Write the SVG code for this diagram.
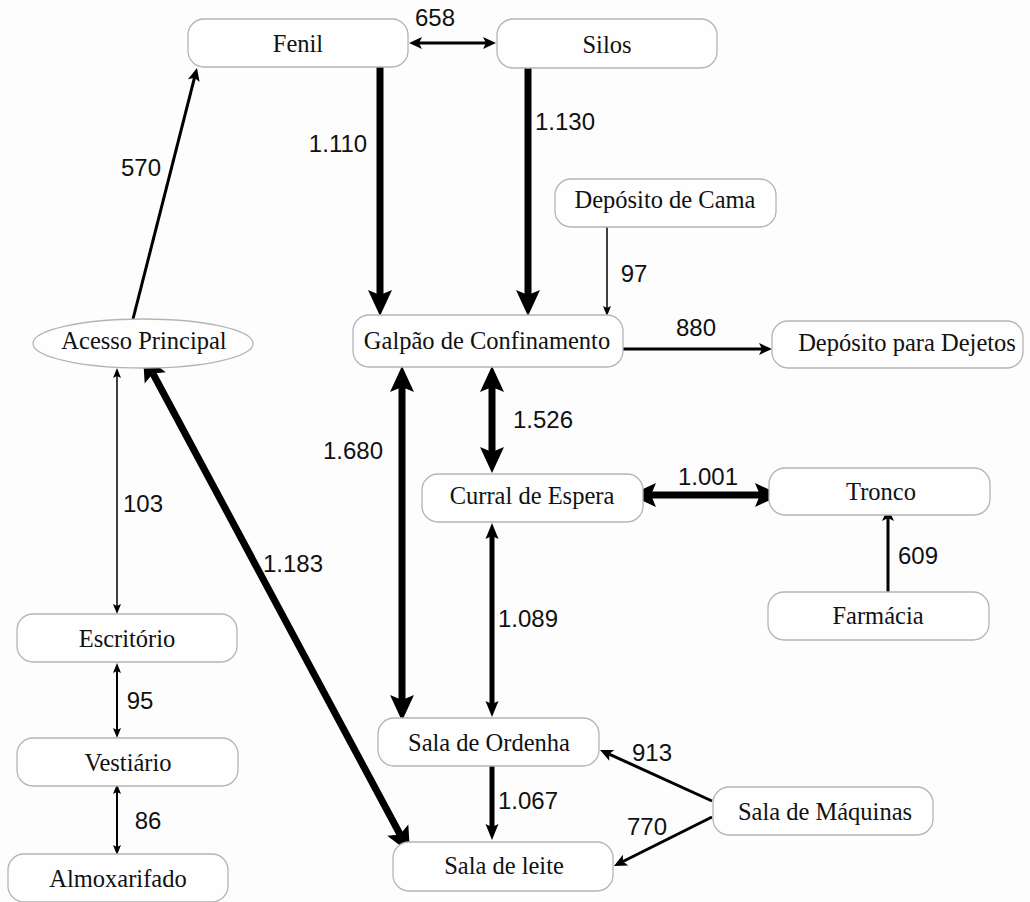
<svg xmlns="http://www.w3.org/2000/svg" width="1030" height="902" viewBox="0 0 1030 902">
<style>
.box{fill:#fefefe;stroke:#b4b4b4;stroke-width:1.3}
.nt{font-family:"Liberation Serif","Times New Roman",serif;font-size:24.5px;fill:#111;text-anchor:middle}
.lb{font-family:"Liberation Sans",Arial,sans-serif;font-size:24px;fill:#111;text-anchor:middle}
.c{stroke:#000;fill:none;stroke-linecap:butt}
.w7{stroke-width:7}
.w5{stroke-width:5}
.w3{stroke-width:3}
.w2{stroke-width:2}
.w15{stroke-width:1.5}
</style>
<defs>
<marker id="hb" markerUnits="userSpaceOnUse" markerWidth="26" markerHeight="24" refX="5" refY="12" orient="auto-start-reverse" overflow="visible"><path d="M0,0 L26,12 L0,24 L5,12 z" fill="#000"/></marker>
<marker id="hm" markerUnits="userSpaceOnUse" markerWidth="16" markerHeight="13" refX="3" refY="6.5" orient="auto-start-reverse" overflow="visible"><path d="M0,0 L16,6.5 L0,13 L3,6.5 z" fill="#000"/></marker>
<marker id="hs" markerUnits="userSpaceOnUse" markerWidth="13" markerHeight="12" refX="3" refY="6" orient="auto-start-reverse" overflow="visible"><path d="M0,0 L13,6 L0,12 L3,6 z" fill="#000"/></marker>
<marker id="ht" markerUnits="userSpaceOnUse" markerWidth="10" markerHeight="8" refX="2" refY="4" orient="auto-start-reverse" overflow="visible"><path d="M0,0 L10,4 L0,8 L2,4 z" fill="#000"/></marker>
</defs>
<rect x="0" y="0" width="1030" height="902" fill="#fdfdfd"/>
<g id="connectors">
<line class="c w3" x1="419" y1="43" x2="486" y2="43" marker-start="url(#hs)" marker-end="url(#hs)"/>
<line class="c w3" x1="133" y1="319" x2="194.5" y2="77.7" marker-end="url(#hs)"/>
<line class="c w7" x1="380" y1="67" x2="380" y2="295" marker-end="url(#hb)"/>
<line class="c w7" x1="528" y1="68" x2="528" y2="295" marker-end="url(#hb)"/>
<line class="c w15" x1="607" y1="227" x2="607" y2="308" marker-end="url(#ht)"/>
<line class="c w3" x1="623" y1="349" x2="762" y2="349" marker-end="url(#hs)"/>
<line class="c w7" x1="492" y1="387" x2="492" y2="452" marker-start="url(#hb)" marker-end="url(#hb)"/>
<line class="c w7" x1="402" y1="387" x2="402" y2="700" marker-start="url(#hb)" marker-end="url(#hb)"/>
<line class="c w7" x1="651" y1="495" x2="760" y2="495" marker-start="url(#hb)" marker-end="url(#hb)"/>
<line class="c w3" x1="888" y1="592" x2="888" y2="518" marker-end="url(#hs)"/>
<line class="c w5" x1="492" y1="536" x2="492" y2="704" marker-start="url(#hm)" marker-end="url(#hm)"/>
<line class="c w5" x1="492" y1="766" x2="492" y2="827" marker-end="url(#hm)"/>
<line class="c w3" x1="712" y1="801" x2="609.1" y2="754.1" marker-end="url(#hs)"/>
<line class="c w3" x1="712" y1="817" x2="622.9" y2="861.5" marker-end="url(#hs)"/>
<line class="c w7" x1="152.9" y1="373.5" x2="400.1" y2="834.5" marker-start="url(#hb)" marker-end="url(#hb)"/>
<line class="c w15" x1="117" y1="376" x2="117" y2="606" marker-start="url(#ht)" marker-end="url(#ht)"/>
<line class="c w2" x1="117" y1="671" x2="117" y2="730" marker-start="url(#ht)" marker-end="url(#ht)"/>
<line class="c w2" x1="117" y1="792" x2="117" y2="847" marker-start="url(#ht)" marker-end="url(#ht)"/>
</g>
<g id="labels">
<text class="lb" x="435" y="26">658</text>
<text class="lb" x="141" y="176">570</text>
<text class="lb" x="338" y="152">1.110</text>
<text class="lb" x="565" y="130">1.130</text>
<text class="lb" x="634" y="282">97</text>
<text class="lb" x="696" y="336">880</text>
<text class="lb" x="543" y="428">1.526</text>
<text class="lb" x="353" y="459">1.680</text>
<text class="lb" x="708" y="485">1.001</text>
<text class="lb" x="918" y="564">609</text>
<text class="lb" x="143" y="512">103</text>
<text class="lb" x="293" y="572">1.183</text>
<text class="lb" x="528" y="627">1.089</text>
<text class="lb" x="140" y="709">95</text>
<text class="lb" x="148" y="829">86</text>
<text class="lb" x="652" y="761">913</text>
<text class="lb" x="528" y="809">1.067</text>
<text class="lb" x="647" y="835">770</text>
</g>
<g id="fenil"><rect class="box" x="188" y="19" width="220" height="48" rx="16"/><text class="nt" x="298" y="52">Fenil</text></g>
<g id="silos"><rect class="box" x="497" y="19" width="220" height="49" rx="16"/><text class="nt" x="607" y="53">Silos</text></g>
<g id="deposito-cama"><rect class="box" x="555" y="179" width="221" height="48" rx="16"/><text class="nt" x="665" y="208">Depósito de Cama</text></g>
<g id="acesso-principal"><ellipse class="box" cx="143" cy="343.5" rx="110" ry="24.5"/><text class="nt" x="144" y="349">Acesso Principal</text></g>
<g id="galpao"><rect class="box" x="353" y="315" width="270" height="52" rx="16"/><text class="nt" x="487" y="349">Galpão de Confinamento</text></g>
<g id="deposito-dejetos"><rect class="box" x="772" y="321" width="251" height="47" rx="16"/><text class="nt" x="907" y="351">Depósito para Dejetos</text></g>
<g id="curral"><rect class="box" x="422" y="474" width="221" height="48" rx="16"/><text class="nt" x="532" y="504">Curral de Espera</text></g>
<g id="tronco"><rect class="box" x="769" y="468" width="221" height="47" rx="16"/><text class="nt" x="881" y="500">Tronco</text></g>
<g id="farmacia"><rect class="box" x="768" y="592" width="221" height="48" rx="16"/><text class="nt" x="878" y="624">Farmácia</text></g>
<g id="escritorio"><rect class="box" x="17" y="614" width="220" height="48" rx="16"/><text class="nt" x="127" y="647">Escritório</text></g>
<g id="vestiario"><rect class="box" x="17" y="738" width="221" height="48" rx="16"/><text class="nt" x="128" y="771">Vestiário</text></g>
<g id="almoxarifado"><rect class="box" x="8" y="854" width="220" height="48" rx="16"/><text class="nt" x="118" y="887">Almoxarifado</text></g>
<g id="sala-ordenha"><rect class="box" x="378" y="718" width="221" height="48" rx="16"/><text class="nt" x="489" y="751">Sala de Ordenha</text></g>
<g id="sala-maquinas"><rect class="box" x="713" y="787" width="220" height="48" rx="16"/><text class="nt" x="825" y="820">Sala de Máquinas</text></g>
<g id="sala-leite"><rect class="box" x="393" y="842" width="220" height="49" rx="16"/><text class="nt" x="504" y="874">Sala de leite</text></g>
</svg>
